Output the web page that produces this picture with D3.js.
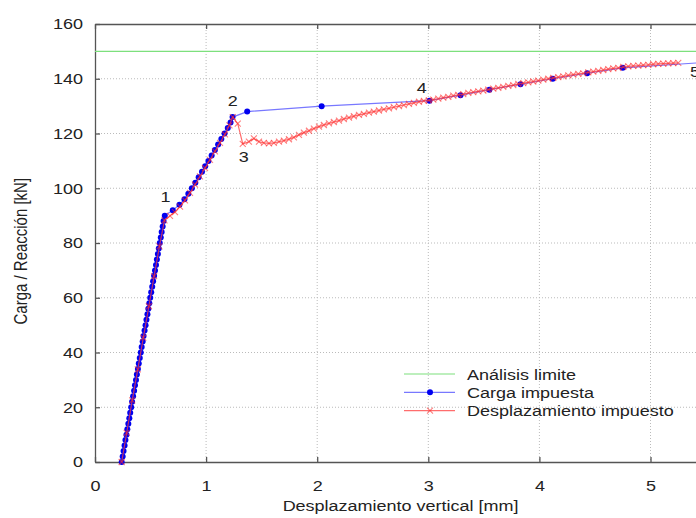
<!DOCTYPE html>
<html>
<head>
<meta charset="utf-8">
<script src="https://cdn.jsdelivr.net/npm/d3@7"></script>
<style>
  body { margin: 0; background: #fff; }
  svg { font-family: "Liberation Sans", Arial, sans-serif; }
</style>
</head>
<body>
<div id="chart-area"></div>
<script>
// DATA
const limitLoad = 150

// Carga impuesta: load steps of 2 kN
const cargaY = [0, 2, 4, 6, 8, 10, 12, 14, 16, 18, 20, 22, 24, 26, 28, 30, 32, 34, 36, 38,
    40, 42, 44, 46, 48, 50, 52, 54, 56, 58, 60, 62, 64, 66, 68, 70, 72, 74, 76, 78,
    80, 82, 84, 86, 88, 90, 92, 94, 96, 98, 100, 102, 104, 106, 108, 110, 112, 114, 116, 118,
    120, 122, 124, 126, 128, 130, 132, 134, 136, 138, 140, 142, 144, 146]
const cargaX = [0.240, 0.249, 0.257, 0.266, 0.274, 0.283, 0.291, 0.300, 0.309, 0.317,
    0.326, 0.334, 0.343, 0.352, 0.360, 0.369, 0.377, 0.386, 0.394, 0.403,
    0.412, 0.420, 0.429, 0.437, 0.446, 0.455, 0.463, 0.472, 0.480, 0.489,
    0.497, 0.506, 0.515, 0.523, 0.532, 0.540, 0.549, 0.557, 0.566, 0.574,
    0.583, 0.592, 0.600, 0.609, 0.617, 0.628, 0.700, 0.760, 0.805, 0.840,
    0.872, 0.903, 0.933, 0.963, 0.992, 1.021, 1.050, 1.079, 1.108, 1.137,
    1.166, 1.195, 1.220, 1.238, 1.370, 2.040, 3.010, 3.290, 3.550, 3.830,
    4.120, 4.430, 4.750, 5.500]

// Desplazamiento impuesto: displacement steps
const despX = [0.240, 0.285, 0.335, 0.385, 0.435, 0.485, 0.532, 0.580, 0.625,
    0.675, 0.720, 0.765, 0.810, 0.855, 0.900, 0.945, 0.990, 1.035, 1.080, 1.125, 1.170, 1.210, 1.240,
    1.285, 1.330, 1.385, 1.430, 1.476, 1.520, 1.566, 1.610, 1.656, 1.700, 1.746, 1.790, 1.836, 1.880,
    1.926, 1.970, 2.016, 2.060, 2.106, 2.150, 2.196, 2.240, 2.286, 2.330, 2.376, 2.420, 2.466, 2.510,
    2.556, 2.600, 2.646, 2.690, 2.736, 2.780, 2.826, 2.870, 2.916, 2.960,
    3.005, 3.045, 3.090, 3.135, 3.180, 3.225, 3.270, 3.315, 3.360, 3.405, 3.450, 3.495, 3.540, 3.585,
    3.630, 3.675, 3.720, 3.765, 3.810, 3.855, 3.900, 3.945, 3.990, 4.035, 4.080, 4.125, 4.170, 4.215,
    4.260, 4.305, 4.350, 4.395, 4.440, 4.485, 4.530, 4.575, 4.620, 4.665, 4.710, 4.755, 4.800, 4.845,
    4.890, 4.935, 4.980, 5.025, 5.070, 5.115, 5.160, 5.205, 5.250]
const despY = [0, 10.6, 22.5, 33.8, 45.4, 56.9, 67.9, 78.8, 88.3,
    89.9, 91.3, 93.3, 95.6, 98.3, 101.3, 104.3, 107.4, 110.4, 113.5, 116.6, 119.7, 123.0, 126.0,
    123.6, 116.2, 117.0, 118.2, 117.0, 116.6, 116.4, 116.6, 117.0, 117.4, 117.9, 118.6, 119.5, 120.3,
    121.0, 121.8, 122.5, 123.1, 123.7, 124.2, 124.7, 125.3, 125.8, 126.3, 126.8, 127.2, 127.6, 128.0,
    128.4, 128.8, 129.2, 129.6, 130.0, 130.4, 130.8, 131.2, 131.6, 131.9,
    132.1, 132.4, 132.7, 133.1, 133.4, 133.8, 134.1, 134.4, 134.8, 135.1, 135.4, 135.7, 136.0, 136.4,
    136.7, 137.0, 137.4, 137.7, 138.1, 138.4, 138.7, 139.0, 139.3, 139.7, 140.0, 140.3, 140.6, 140.9,
    141.2, 141.5, 141.8, 142.0, 142.3, 142.6, 142.9, 143.2, 143.5, 143.8, 144.0, 144.3, 144.5, 144.7,
    144.8, 145.0, 145.1, 145.3, 145.4, 145.5, 145.6, 145.7, 145.8]

// point labels
const pointLabels = ['1', '2', '3', '4', '5']
const pointLabelX = [0.635, 1.239, 1.338, 2.94, 5.40]
const pointLabelY = [96.8, 132.2, 111.4, 136.9, 142.6]

const xTicks = [0, 1, 2, 3, 4, 5]
const yTicks = [0, 20, 40, 60, 80, 100, 120, 140, 160]

const legendNames = ['Análisis limite', 'Carga impuesta', 'Desplazamiento impuesto']

// CHART SIZE
const margin = { top: 24, left: 95, bottom: 56, right: 0 }
const height = 518 - margin.top - margin.bottom
const width = 6 * 111.1
const stretch = 'scale(1.2,1)'
const fontSize = '15px'
const ink = '#222'

const svg = d3.select('#chart-area')
              .append('svg')
              .attr('width', 696)
              .attr('height', 518)

const g = svg.append('g')
             .attr('transform', 'translate(' + margin.left + ',' + margin.top + ')')

const x = d3.scaleLinear().domain([0, 6]).range([0, width])
const y = d3.scaleLinear().domain([0, 160]).range([height, 0])

// GRID
g.append('g')
 .selectAll('line')
 .data(xTicks.filter(d => d > 0))
 .enter()
 .append('line')
 .attr('x1', d => x(d)).attr('x2', d => x(d))
 .attr('y1', 0).attr('y2', height)
 .attr('stroke', '#bbb').attr('stroke-dasharray', '1,2')

g.append('g')
 .selectAll('line')
 .data(yTicks.filter(d => d > 0 && d < 160))
 .enter()
 .append('line')
 .attr('x1', 0).attr('x2', width)
 .attr('y1', d => y(d)).attr('y2', d => y(d))
 .attr('stroke', '#bbb').attr('stroke-dasharray', '1,2')

// AXES
const styleAxis = sel => {
    sel.select('.domain').attr('stroke', '#555').attr('stroke-width', 1.3)
    sel.selectAll('.tick line').attr('stroke', '#555').attr('stroke-width', 1.3)
    sel.selectAll('text').attr('font-size', fontSize).attr('fill', ink)
}

const xAxisGroup = g.append('g')
    .attr('transform', 'translate(0,' + height + ')')
    .call(d3.axisBottom(x).tickValues(xTicks).tickFormat(d3.format('d'))
            .tickSizeInner(-5).tickSizeOuter(0).tickPadding(18))
    .call(styleAxis)
xAxisGroup.selectAll('text')
    .attr('transform', 'translate(0,18) ' + stretch)
    .attr('y', 0)

g.append('g')
 .call(d3.axisTop(x).tickValues(xTicks).tickSizeInner(-5).tickSizeOuter(0).tickFormat(''))
 .call(styleAxis)

const yAxisGroup = g.append('g')
    .call(d3.axisLeft(y).tickValues(yTicks).tickSizeInner(-5).tickSizeOuter(0).tickPadding(12))
    .call(styleAxis)
yAxisGroup.selectAll('text')
    .attr('transform', 'translate(-12,0) ' + stretch)
    .attr('x', 0)

// AXIS LABELS
svg.append('text')
   .attr('transform', 'translate(' + (margin.left + x(2.75)) + ',511) ' + stretch)
   .attr('text-anchor', 'middle')
   .attr('font-size', fontSize)
   .attr('fill', ink)
   .text('Desplazamiento vertical [mm]')

svg.append('text')
   .attr('transform', 'translate(27,' + (margin.top + y(77)) + ') ' + stretch + ' rotate(-90)')
   .attr('text-anchor', 'middle')
   .attr('font-size', fontSize)
   .attr('fill', ink)
   .text('Carga / Reacción [kN]')

// SERIES
const plot = g.append('g')

plot.append('line')
    .attr('x1', 0).attr('x2', width)
    .attr('y1', y(limitLoad)).attr('y2', y(limitLoad))
    .attr('stroke', '#7de07d').attr('stroke-width', 1.2)

const carga = cargaX.map((d, i) => [d, cargaY[i]])
const desp = despX.map((d, i) => [d, despY[i]])

const line = d3.line().x(d => x(d[0])).y(d => y(d[1]))

plot.append('path')
    .datum(carga)
    .attr('d', line)
    .attr('fill', 'none')
    .attr('stroke', '#7878ff')
    .attr('stroke-width', 1.2)

plot.selectAll('.dot')
    .data(carga)
    .enter()
    .append('circle')
    .attr('class', 'dot')
    .attr('cx', d => x(d[0]))
    .attr('cy', d => y(d[1]))
    .attr('r', 3)
    .attr('fill', '#0000f0')

plot.append('path')
    .datum(desp)
    .attr('d', line)
    .attr('fill', 'none')
    .attr('stroke', 'rgba(255,60,60,0.75)')
    .attr('stroke-width', 1.2)

const cross = (px, py, s) =>
    'M' + (px - s) + ',' + (py - s) + 'L' + (px + s) + ',' + (py + s) +
    'M' + (px - s) + ',' + (py + s) + 'L' + (px + s) + ',' + (py - s)

plot.selectAll('.cross')
    .data(desp)
    .enter()
    .append('path')
    .attr('class', 'cross')
    .attr('d', d => cross(x(d[0]), y(d[1]), 3))
    .attr('stroke', 'rgba(255,40,40,0.6)')
    .attr('stroke-width', 1.1)

// POINT LABELS
g.selectAll('.plabel')
 .data(pointLabels)
 .enter()
 .append('text')
 .attr('class', 'plabel')
 .attr('transform', (d, i) => 'translate(' + x(pointLabelX[i]) + ',' + y(pointLabelY[i]) + ') ' + stretch)
 .attr('dy', '0.36em')
 .attr('text-anchor', 'middle')
 .attr('font-size', fontSize)
 .attr('fill', ink)
 .text(d => d)

// LEGEND
const legend = svg.append('g').attr('transform', 'translate(404,374)')
const legendColors = ['#7de07d', '#7878ff', 'rgba(255,60,60,0.75)']

legendNames.forEach((name, i) => {
    const row = legend.append('g').attr('transform', 'translate(0,' + (i * 18.3) + ')')
    row.append('line')
       .attr('x1', 0).attr('x2', 51)
       .attr('stroke', legendColors[i]).attr('stroke-width', 1.2)
    if (i === 1) {
        row.append('circle').attr('cx', 26).attr('r', 3).attr('fill', '#0000f0')
    }
    if (i === 2) {
        row.append('path').attr('d', cross(26, 0, 3))
           .attr('stroke', 'rgba(255,40,40,0.6)').attr('stroke-width', 1.1)
    }
    row.append('text')
       .attr('transform', 'translate(63,5.5) ' + stretch)
       .attr('font-size', fontSize)
       .attr('fill', ink)
       .text(name)
})
</script>
</body>
</html>
